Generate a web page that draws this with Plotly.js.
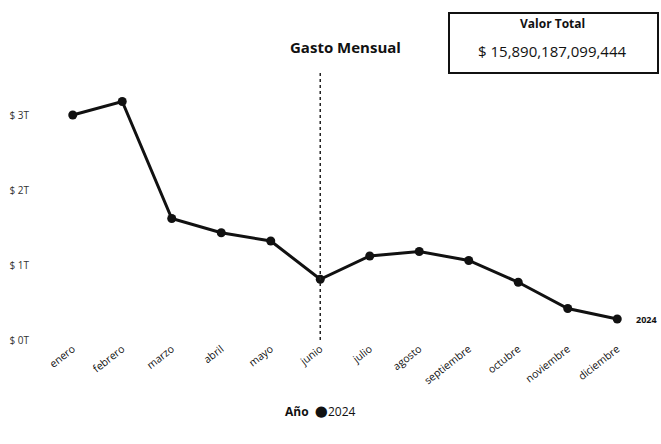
<!DOCTYPE html>
<html>
<head>
<meta charset="utf-8">
<script src="https://cdn.plot.ly/plotly-3.0.1.min.js"></script>
<style>
html,body{margin:0;padding:0;background:#fff;}
#chart{width:661px;height:444px;}
</style>
</head>
<body>
<div id="chart"></div>
<script>
const months = ["enero","febrero","marzo","abril","mayo","junio","julio","agosto","septiembre","octubre","noviembre","diciembre"];
const gasto2024 = [3.00, 3.18, 1.62, 1.43, 1.32, 0.81, 1.12, 1.18, 1.06, 0.77, 0.42, 0.28]; // trillions
const yTickVals = [0, 1, 2, 3];
const yTickText = ["$ 0T", "$ 1T", "$ 2T", "$ 3T"];
const seriesName = "2024";
const legendTitle = "Año";
const totalLabel = "Valor Total";
const totalValue = "$ 15,890,187,099,444";
const markerMonth = "junio";

const font = "Open Sans, DejaVu Sans, sans-serif";

const trace = {
  x: months,
  y: gasto2024,
  type: "scatter",
  mode: "lines+markers",
  name: seriesName,
  showlegend: false,
  line: {color: "#111", width: 3},
  marker: {color: "#111", size: 9},
  cliponaxis: false,
  hoverinfo: "skip"
};

const layout = {
  width: 661, height: 444,
  margin: {l: 48, r: 19, t: 70, b: 104},
  paper_bgcolor: "#fff", plot_bgcolor: "#fff",
  font: {family: font, color: "#111"},
  showlegend: false,
  xaxis: {
    type: "category",
    range: [-0.5, 11.5],
    showgrid: false, zeroline: false, showline: false,
    tickangle: -38,
    tickfont: {size: 10.5, color: "#111"},
    ticks: ""
  },
  yaxis: {
    range: [0, 3.6],
    tickvals: yTickVals, ticktext: yTickText,
    showgrid: false, zeroline: false, showline: false,
    tickfont: {size: 10, color: "#333"},
    ticks: "",
    ticklabelstandoff: 18
  },
  shapes: [
    {type: "line", xref: "x", yref: "paper", x0: markerMonth, x1: markerMonth, y0: 0, y1: 1,
     line: {color: "#222", width: 1.5, dash: "dot"}},
    {type: "rect", xref: "paper", yref: "paper",
     x0: (449-48)/594, x1: (658-48)/594, y0: (340-73)/270, y1: (340-13)/270,
     line: {color: "#111", width: 2}, fillcolor: "rgba(0,0,0,0)"}
  ],
  annotations: [
    {text: "<b>Gasto Mensual</b>", xref: "paper", yref: "paper",
     x: (345-48)/594, y: (340-47)/270, xanchor: "center", yanchor: "middle",
     showarrow: false, font: {size: 15, color: "#111", family: font}},
    {text: "<b>" + totalLabel + "</b>", xref: "paper", yref: "paper",
     x: (552-48)/594, y: (340-23)/270, xanchor: "center", yanchor: "middle",
     showarrow: false, font: {size: 12, color: "#111", family: font}},
    {text: totalValue, xref: "paper", yref: "paper",
     x: (552-48)/594, y: (340-51)/270, xanchor: "center", yanchor: "middle",
     showarrow: false, font: {size: 15, color: "#111", family: font}},
    {text: "<b>" + seriesName + "</b>", xref: "paper", yref: "y",
     x: (659-48)/594, y: gasto2024[gasto2024.length-1], xanchor: "right", yanchor: "middle",
     showarrow: false, font: {size: 9, color: "#111", family: font}},
    {text: "<b>" + legendTitle + "</b>  <span style='font-size:15px'>●</span>" + seriesName,
     xref: "paper", yref: "paper",
     x: (320-48)/594, y: (340-410)/270, xanchor: "center", yanchor: "middle",
     showarrow: false, font: {size: 12, color: "#111", family: font}}
  ]
};

Plotly.newPlot("chart", [trace], layout, {displayModeBar: false, staticPlot: true});
</script>
</body>
</html>
